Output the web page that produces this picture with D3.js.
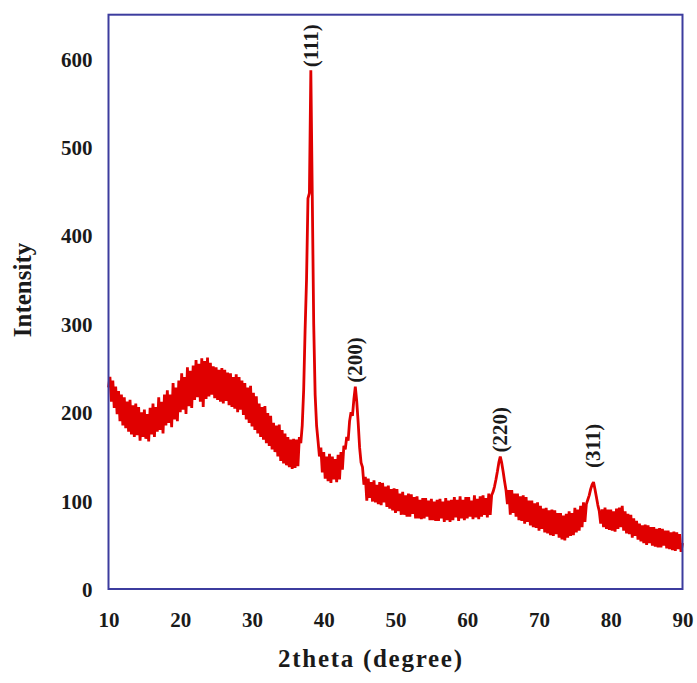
<!DOCTYPE html>
<html>
<head>
<meta charset="utf-8">
<script src="https://cdn.jsdelivr.net/npm/d3@7"></script>
<style>
  html, body { margin: 0; padding: 0; background: #ffffff; }
  svg { display: block; }
  text { font-family: "Liberation Serif", "Times New Roman", serif; font-weight: bold; fill: #1a1a1a; }
</style>
</head>
<body>
<svg id="chart" width="697" height="683"></svg>
<script>
// XRD pattern: intensity sampled every 0.2 degree of 2theta from 10 to 90
const thetaStart = 10;
const thetaStep = 0.2;
const intensity = [
  // 10-14
  228, 240, 212, 236, 205,   229, 198, 224, 190, 220,   185, 217, 182, 212, 178,   214, 175, 208, 172, 210,   174, 206, 168, 200, 172,
  // 15-19
  203, 170, 198, 167, 205,   175, 210, 172, 206, 178,   217, 180, 212, 176, 220,   185, 225, 188, 220, 183,   233, 192, 228, 190, 236,
  // 20-24
  200, 244, 203, 240, 198,   251, 207, 247, 205, 253,   214, 259, 217, 255, 212,   261, 206, 258, 215, 262,   218, 256, 220, 252, 216,
  // 25-29
  251, 214, 248, 212, 250,   210, 248, 213, 245, 208,   244, 206, 240, 204, 243,   200, 240, 203, 236, 197,   233, 192, 228, 188, 230,
  // 30-34
  184, 222, 180, 218, 176,   210, 172, 206, 169, 207,   165, 199, 162, 196, 158,   188, 155, 185, 150, 186,   145, 180, 142, 176, 140,
  // 35-39  (111) reflection
  172, 138, 169, 136, 170,   137, 169, 139, 172, 165,   185, 225, 293, 350, 442,   448, 587, 446, 300, 220,   185, 168, 150, 160, 132,
  // 40-44  (200) reflection
  155, 125, 150, 122, 153,   120, 150, 124, 147, 121,   152, 124, 155, 135, 162,   158, 172, 168, 190, 200,   196, 215, 229, 212, 188,
  // 45-49
  160, 143, 138, 118, 127,   100, 125, 103, 121,  99,   123,  98, 118,  96, 121,    95, 120,  98, 116,  93,   117,  91, 113,  89, 114,
  // 50-54
   86, 113,  88, 108,  84,   110,  84, 106,  82, 108,    82, 107,  85, 104,  80,   105,  80, 101,  79, 103,    80, 103,  82, 100,  78,
  // 55-59
  102,  78,  99,  77, 101,    77, 102,  80,  99,  76,   103,  78, 100,  76, 101,    78, 104,  81, 101,  77,   105,  80, 101,  78, 104,
  // 60-64  (220) reflection
   80, 104,  82, 100,  79,   106,  81, 102,  79, 105,    82, 106,  84, 103,  81,   108,  84, 106, 110, 116,   124, 133, 143, 150, 143,
  // 65-69
  133, 122, 112,  96, 112,    84, 112,  86, 108,  82,   108,  78, 105,  77, 106,    74, 104,  76, 100,  72,   100,  70,  97,  69,  98,
  // 70-74
   66,  94,  68,  91,  64,    92,  63,  89,  61,  90,    60,  89,  62,  86,  58,    86,  56,  83,  55,  85,    58,  88,  60,  86,  61,
  // 75-79  (311) reflection
   92,  64,  90,  66,  94,    70,  98,  76,  96, 101,   106, 113, 118, 121, 113,   104,  95,  88,  74,  90,    70,  92,  68,  90,  67,
  // 80-84
   90,  66,  88,  65,  91,    68,  92,  70,  94,  66,    88,  63,  85,  62,  84,    58,  80,  60,  77,  56,    74,  54,  72,  52,  73,
  // 85-89
   50,  72,  52,  70,  49,    70,  48,  68,  47,  69,    47,  68,  49,  66,  46,    66,  45,  64,  44,  65,    43,  64,  45,  62,  42,
  // 90
   52
];
const twoTheta = intensity.map((_, i) => +(thetaStart + i * thetaStep).toFixed(1));

const xTicks = [10, 20, 30, 40, 50, 60, 70, 80, 90];
const yTicks = [0, 100, 200, 300, 400, 500, 600];

const peakLabels = ["(111)", "(200)", "(220)", "(311)"];
const peakTheta = [38.2, 44.4, 64.6, 77.6];
const peakIntensity = [587, 229, 150, 121];

const xLabel = "2theta (degree)";
const yLabel = "Intensity";

// ---- layout ----
const plot = { left: 108.5, right: 682.5, top: 14.7, bottom: 589 };
const svg = d3.select("#chart");

const x = d3.scaleLinear().domain([10, 90]).range([plot.left, plot.right]);
const y = d3.scaleLinear().domain([0, 650]).range([plot.bottom, plot.top]);

// pattern trace
const points = twoTheta.map((t, i) => [t, intensity[i]]);
svg.append("path")
  .datum(points)
  .attr("fill", "none")
  .attr("stroke", "#e00000")
  .attr("stroke-width", 2.8)
  .attr("stroke-linejoin", "bevel")
  .attr("d", d3.line().x(d => x(d[0])).y(d => y(d[1])));

// plot frame
svg.append("rect")
  .attr("x", plot.left)
  .attr("y", plot.top)
  .attr("width", plot.right - plot.left)
  .attr("height", plot.bottom - plot.top)
  .attr("fill", "none")
  .attr("stroke", "#3c3c9e")
  .attr("stroke-width", 2);

// axes (labels only, no tick marks)
const xAxis = svg.append("g")
  .attr("transform", `translate(0,${plot.bottom})`)
  .call(d3.axisBottom(x).tickValues(xTicks).tickSize(0).tickFormat(d3.format("d")));
xAxis.select(".domain").remove();
xAxis.selectAll("text")
  .attr("y", 38).attr("dy", 0)
  .style("font-family", '"Liberation Serif", serif')
  .style("font-weight", "bold")
  .style("font-size", "21px")
  .attr("fill", "#1a1a1a");

const yAxis = svg.append("g")
  .attr("transform", `translate(${plot.left},0)`)
  .call(d3.axisLeft(y).tickValues(yTicks).tickSize(0).tickFormat(d3.format("d")));
yAxis.select(".domain").remove();
yAxis.selectAll("text")
  .attr("x", -16).attr("dy", "0.35em")
  .style("font-family", '"Liberation Serif", serif')
  .style("font-weight", "bold")
  .style("font-size", "21px")
  .attr("fill", "#1a1a1a");

// axis titles
svg.append("text")
  .attr("x", 370)
  .attr("y", 667)
  .attr("text-anchor", "middle")
  .attr("textLength", 184)
  .attr("lengthAdjust", "spacing")
  .style("font-size", "25px")
  .text(xLabel);

svg.append("text")
  .attr("transform", "translate(31,290) rotate(-90)")
  .attr("text-anchor", "middle")
  .style("font-size", "25px")
  .text(yLabel);

// reflection labels, written vertically above each peak
const labelGap = { "(111)": 3, "(200)": 4, "(220)": 4, "(311)": 14 };
peakLabels.forEach((lab, i) => {
  const px = x(peakTheta[i]);
  const py = y(peakIntensity[i]) - labelGap[lab];
  svg.append("text")
    .attr("transform", `translate(${px},${py}) rotate(-90)`)
    .attr("text-anchor", "start")
    .attr("dy", "0.33em")
    .style("font-size", "21px")
    .text(lab);
});
</script>
</body>
</html>
